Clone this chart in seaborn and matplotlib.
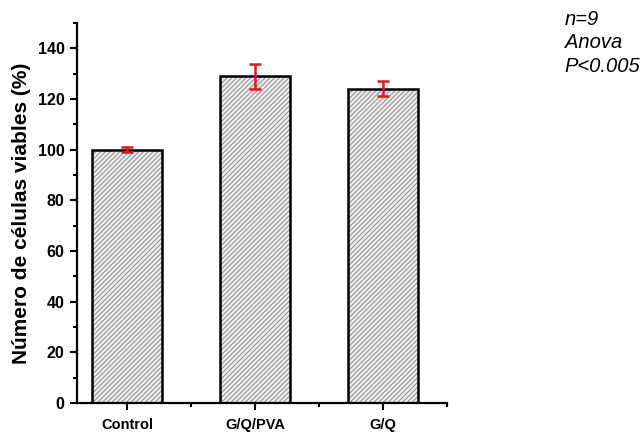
import matplotlib
matplotlib.use("Agg")
import matplotlib.pyplot as plt
import seaborn as sns
import pandas as pd
import numpy as np
from matplotlib.patches import Rectangle
from matplotlib.ticker import MultipleLocator, FixedLocator

categories = ["Control", "G/Q/PVA", "G/Q"]
values = [100, 129, 124]
errors = [1, 5, 3]

sns.set_theme(style="ticks")
plt.rcParams['font.family'] = ['Liberation Sans', 'DejaVu Sans']
plt.rcParams['hatch.linewidth'] = 0.7

df = pd.DataFrame({"cat": categories, "val": values})

fig = plt.figure(figsize=(6.44, 4.34), dpi=100)
ax = fig.add_axes([0.1196, 0.0714, 0.5745, 0.8756])

sns.barplot(data=df, x="cat", y="val", color="white", width=0.55,
            errorbar=None, ax=ax, saturation=1)

for p in list(ax.patches):
    p.set_facecolor("#ececec")
    p.set_edgecolor("#8c8c8c")
    p.set_hatch("///////")
    p.set_linewidth(0)
    r = Rectangle(p.get_xy(), p.get_width(), p.get_height(), fill=False,
                  edgecolor="black", linewidth=1.8, zorder=3)
    ax.add_patch(r)

ax.errorbar(np.arange(len(categories)), values, yerr=errors, fmt="none",
            ecolor="#e8141c", elinewidth=1.8, capsize=4, capthick=1.8, zorder=4)

ax.set_xlim(-0.39, 2.5)
ax.set_ylim(0, 150)
ax.yaxis.set_major_locator(MultipleLocator(20))
ax.yaxis.set_minor_locator(MultipleLocator(10))
ax.xaxis.set_minor_locator(FixedLocator([0.5, 1.5, 2.5]))
ax.set_yticks(np.arange(0, 141, 20))

sns.despine(ax=ax)
for s in ["left", "bottom"]:
    ax.spines[s].set_linewidth(1.6)
    ax.spines[s].set_color("black")

ax.tick_params(axis="both", which="major", direction="out", length=5, width=1.5,
               color="black", labelcolor="black", pad=4)
ax.tick_params(axis="y", which="major", labelsize=11.5)
ax.tick_params(axis="x", which="major", labelsize=10.5, pad=6)
ax.tick_params(axis="both", which="minor", direction="out", length=3, width=1.5,
               color="black")
for lbl in ax.get_xticklabels() + ax.get_yticklabels():
    lbl.set_fontweight("bold")

ax.set_xlabel("")
ax.set_ylabel("Número de células viables (%)", fontsize=15, fontweight="bold",
              color="black", labelpad=5)

fig.text(0.877, 0.978, "n=9\nAnova\nP<0.005", fontsize=14.5, style="italic",
         va="top", ha="left", linespacing=1.3, color="black")

fig.savefig("out.png", dpi=100, facecolor="white")
